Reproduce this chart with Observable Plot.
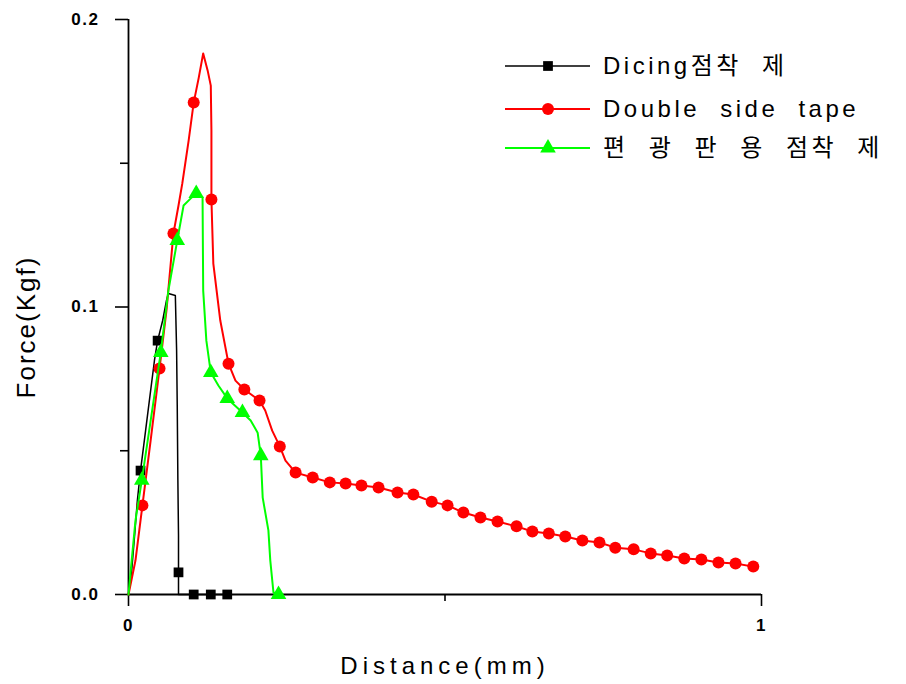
<!DOCTYPE html>
<html>
<head>
<meta charset="utf-8">
<script src="https://cdn.jsdelivr.net/npm/d3@7"></script>
<script src="https://cdn.jsdelivr.net/npm/@observablehq/plot@0.6"></script>
<style>
  body { margin: 0; background: #fff; }
  #wrap { position: relative; width: 906px; height: 684px; font-family: "Liberation Sans", "Noto Sans CJK KR", sans-serif; }
  #wrap svg { display: block; }
  #legend { position: absolute; left: 0; top: 0; pointer-events: none; }
  #legend text { white-space: pre; }
</style>
</head>
<body>
<div id="wrap"></div>
<script>
// ---- data ----
const seriesNames = ["Dicing점착 제", "Double side tape", "편 광 판 용 점착 제"];
const seriesColors = ["#000000", "#ff0000", "#00ff00"];

const dicingX = [0, 0.005, 0.009, 0.014, 0.019, 0.027, 0.035, 0.041, 0.046, 0.054, 0.060, 0.063, 0.074, 0.076, 0.077, 0.078, 0.079, 0.079, 0.079, 0.103, 0.130, 0.156];
const dicingY = [0, 0.0083, 0.0188, 0.0327, 0.0431, 0.0570, 0.0710, 0.0814, 0.0883, 0.0953, 0.1023, 0.1047, 0.1040, 0.0849, 0.0657, 0.0397, 0.0205, 0.0077, 0, 0, 0, 0];
const dicingMarks = [4, 8, 17, 19, 20, 21];

const tapeX = [0, 0.011, 0.022, 0.035, 0.049, 0.060, 0.071, 0.079, 0.085, 0.095, 0.103, 0.111, 0.118, 0.125, 0.130, 0.131, 0.131, 0.134, 0.145, 0.158, 0.169, 0.183, 0.196, 0.207, 0.216, 0.227, 0.239, 0.248,
  0.264, 0.291, 0.318, 0.343, 0.368, 0.395, 0.425, 0.450, 0.479, 0.504, 0.529, 0.556, 0.583, 0.613, 0.638, 0.664, 0.690, 0.717, 0.744, 0.769, 0.798, 0.825, 0.851, 0.878, 0.905, 0.932, 0.959, 0.987];
const tapeY = [0, 0.0118, 0.0310, 0.0536, 0.0786, 0.0988, 0.1256, 0.1353, 0.1430, 0.1579, 0.1711, 0.1798, 0.1882, 0.1823, 0.1770, 0.1614, 0.1374, 0.1151, 0.0953, 0.0803, 0.0744, 0.0713, 0.0692, 0.0675, 0.0640, 0.0570, 0.0515, 0.0466,
  0.0424, 0.0407, 0.0390, 0.0386, 0.0379, 0.0372, 0.0355, 0.0348, 0.0323, 0.0310, 0.0285, 0.0268, 0.0254, 0.0237, 0.0219, 0.0212, 0.0202, 0.0188, 0.0181, 0.0163, 0.0157, 0.0143, 0.0136, 0.0125, 0.0122, 0.0111, 0.0108, 0.0097];
const tapeMarks = [2, 4, 6, 10, 16, 19, 21, 23, 26].concat(d3.range(28, 56));

const polX = [0, 0.005, 0.011, 0.021, 0.035, 0.051, 0.063, 0.077, 0.087, 0.098, 0.107, 0.117, 0.118, 0.123, 0.130, 0.142, 0.156, 0.180, 0.193, 0.204, 0.209, 0.212, 0.221, 0.224, 0.229, 0.237];
const polY = [0, 0.0118, 0.0257, 0.0397, 0.0605, 0.0842, 0.1057, 0.1231, 0.1353, 0.1377, 0.1395, 0.1381, 0.1057, 0.0883, 0.0772, 0.0727, 0.0682, 0.0633, 0.0605, 0.0563, 0.0483, 0.0337, 0.0223, 0.0118, 0.0007, 0];
const polMarks = [3, 5, 7, 10, 14, 16, 17, 20, 25];

const yTicks = [0, 0.1, 0.2];
const yMinorTicks = [0.05, 0.15];
const xTicks = [0, 1];
const xMinorTicks = [0.5];
const xLabel = "Distance(mm)";
const yLabel = "Force(Kgf)";

// ---- build ----
const FONT = '"Liberation Sans", "Noto Sans CJK KR", sans-serif';
const series = [
  {name: seriesNames[0], x: dicingX, y: dicingY, marks: dicingMarks, color: seriesColors[0], symbol: "square", r: 5.5, sw: 1.5},
  {name: seriesNames[1], x: tapeX, y: tapeY, marks: tapeMarks, color: seriesColors[1], symbol: "circle", r: 6, sw: 2},
  {name: seriesNames[2], x: polX, y: polY, marks: polMarks, color: seriesColors[2], symbol: "triangle", r: 5.8, sw: 2}
];

const dataMarks = [];
series.forEach(s => {
  const pts = s.x.map((x, i) => ({x, y: s.y[i], series: s.name}));
  dataMarks.push(Plot.line(pts, {x: "x", y: "y", stroke: s.color, strokeWidth: s.sw}));
  dataMarks.push(Plot.dot(s.marks.map(i => pts[i]), {x: "x", y: "y", fill: s.color, stroke: "none", symbol: s.symbol, r: s.r}));
});

const noText = () => "";
const chart = Plot.plot({
  width: 906, height: 684,
  marginLeft: 128, marginRight: 145, marginTop: 19, marginBottom: 90,
  style: {fontFamily: FONT, background: "white", color: "black"},
  x: {domain: [0, 1]},
  y: {domain: [0, 0.2]},
  marks: [
    Plot.axisY({anchor: "left", ticks: yTicks, tickSize: 13, tickPadding: 16, tickFormat: d3.format(".1f"), label: null, strokeWidth: 1.6, fontSize: 17, fontWeight: "bold"}),
    Plot.axisY({anchor: "left", ticks: yMinorTicks, tickSize: 8, tickFormat: noText, label: null, strokeWidth: 1.6}),
    Plot.axisX({anchor: "bottom", ticks: xTicks, tickSize: 12, tickPadding: 12, tickFormat: d3.format("d"), label: null, strokeWidth: 1.6, fontSize: 17, fontWeight: "bold"}),
    Plot.axisX({anchor: "bottom", ticks: xMinorTicks, tickSize: 7, tickFormat: noText, label: null, strokeWidth: 1.6}),
    Plot.ruleX([0], {stroke: "black", strokeWidth: 1.8}),
    Plot.ruleY([0], {stroke: "black", strokeWidth: 1.8}),
    ...dataMarks,
    Plot.text([yLabel], {text: d => d, frameAnchor: "left", textAnchor: "middle", lineAnchor: "middle", rotate: -90, dx: -102, dy: 20, fontSize: 26}),
    Plot.text([xLabel], {text: d => d, frameAnchor: "bottom", textAnchor: "middle", lineAnchor: "middle", dy: 72, fontSize: 24})
  ]
});

const wrap = document.getElementById("wrap");
wrap.appendChild(chart);

// font sizes / letter spacing to mimic the spaced-out original lettering
d3.select(chart).selectAll("text").each(function() {
  const t = this.textContent;
  if (t === xLabel) {
    this.style.letterSpacing = "5px";
  } else if (t === yLabel) {
    this.style.letterSpacing = "2px";
  } else {
    this.style.letterSpacing = "1.5px";
    this.style.fontSize = "17px";
    this.style.fontWeight = "bold";
  }
});

// ---- legend ----
const legend = d3.select(wrap).append("svg")
  .attr("id", "legend").attr("width", 906).attr("height", 684);
const rowY = [66, 109, 148];
series.forEach((s, i) => {
  const g = legend.append("g").attr("transform", `translate(0,${rowY[i]})`);
  g.append("line").attr("x1", 505).attr("x2", 590).attr("y1", 0).attr("y2", 0)
    .attr("stroke", s.color).attr("stroke-width", s.sw);
  const type = s.symbol === "square" ? d3.symbolSquare : s.symbol === "circle" ? d3.symbolCircle : d3.symbolTriangle;
  g.append("path").attr("transform", "translate(548,0)")
    .attr("d", d3.symbol(type, Math.PI * s.r * s.r)()).attr("fill", s.color);
  g.append("text").attr("x", 603).attr("y", 0).attr("dy", "0.35em")
    .attr("font-family", FONT).attr("font-size", 24)
    .style("letter-spacing", "3.5px").style("word-spacing", "10px")
    .text(s.name);
});
</script>
</body>
</html>
